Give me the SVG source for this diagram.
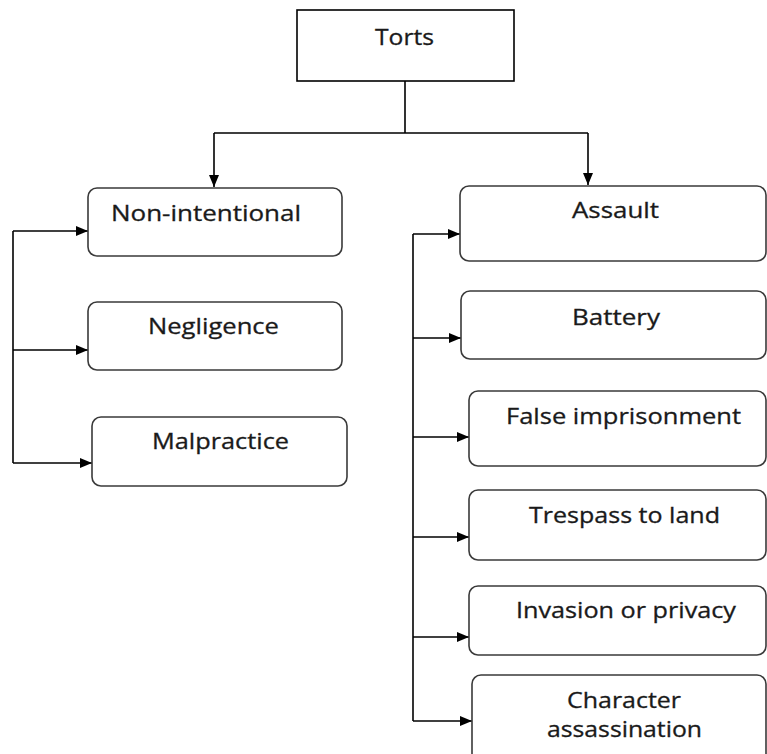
<svg xmlns="http://www.w3.org/2000/svg" width="767" height="754" viewBox="0 0 767 754">
<style>
.box{fill:#fff;stroke:#3a3a3a;stroke-width:1.6}
.t{font-family:"Open Sans","Noto Sans","Liberation Sans",sans-serif;font-size:21px;fill:#1a1a1a;text-anchor:start;stroke:#1a1a1a;stroke-width:0.3}
.c{fill:none;stroke:#000;stroke-width:1.6}
</style>
<defs>
<marker id="a" viewBox="0 0 12 10" refX="12" refY="5" markerWidth="12" markerHeight="10" markerUnits="userSpaceOnUse" orient="auto">
<path d="M0,0 L12,5 L0,10 Z" fill="#000"/>
</marker>
</defs>
<rect width="767" height="754" fill="#fff"/>
<g id="connectors">
<path class="c" d="M405,81 V133 M214,133 H588"/>
<path class="c" d="M214,133 V187" marker-end="url(#a)"/>
<path class="c" d="M588,133 V185" marker-end="url(#a)"/>
<path class="c" d="M13,231 V463"/>
<path class="c" d="M13,231 H88" marker-end="url(#a)"/>
<path class="c" d="M13,350 H88" marker-end="url(#a)"/>
<path class="c" d="M13,463 H92" marker-end="url(#a)"/>
<path class="c" d="M413,234 V721"/>
<path class="c" d="M413,234 H460" marker-end="url(#a)"/>
<path class="c" d="M413,338 H461" marker-end="url(#a)"/>
<path class="c" d="M413,437 H469" marker-end="url(#a)"/>
<path class="c" d="M413,537 H469" marker-end="url(#a)"/>
<path class="c" d="M413,637 H469" marker-end="url(#a)"/>
<path class="c" d="M413,721 H472" marker-end="url(#a)"/>
</g>
<g id="torts"><rect class="box" x="297" y="10" width="217" height="71" style="stroke:#000"/><text class="t" x="375" y="45" textLength="59" lengthAdjust="spacingAndGlyphs">Torts</text></g>
<g id="non-intentional"><rect class="box" x="88" y="188" width="254" height="68" rx="9"/><text class="t" x="111" y="221" textLength="190" lengthAdjust="spacingAndGlyphs">Non-intentional</text></g>
<g id="negligence"><rect class="box" x="88" y="302" width="254" height="68" rx="9"/><text class="t" x="148" y="334" textLength="131" lengthAdjust="spacingAndGlyphs">Negligence</text></g>
<g id="malpractice"><rect class="box" x="92" y="417" width="255" height="69" rx="9"/><text class="t" x="152" y="449" textLength="137" lengthAdjust="spacingAndGlyphs">Malpractice</text></g>
<g id="assault"><rect class="box" x="460" y="186" width="306" height="75" rx="9"/><text class="t" x="572" y="218" textLength="87" lengthAdjust="spacingAndGlyphs">Assault</text></g>
<g id="battery"><rect class="box" x="461" y="291" width="305" height="68" rx="9"/><text class="t" x="572" y="325" textLength="88" lengthAdjust="spacingAndGlyphs">Battery</text></g>
<g id="false-imprisonment"><rect class="box" x="469" y="391" width="297" height="75" rx="9"/><text class="t" x="506" y="424" textLength="235" lengthAdjust="spacingAndGlyphs">False imprisonment</text></g>
<g id="trespass"><rect class="box" x="469" y="490" width="297" height="70" rx="9"/><text class="t" x="529" y="523" textLength="191" lengthAdjust="spacingAndGlyphs">Trespass to land</text></g>
<g id="invasion"><rect class="box" x="469" y="586" width="297" height="69" rx="9"/><text class="t" x="516" y="618" textLength="220" lengthAdjust="spacingAndGlyphs">Invasion or privacy</text></g>
<g id="character"><rect class="box" x="472" y="675" width="294" height="90" rx="9"/><text class="t" x="567" y="708" textLength="114" lengthAdjust="spacingAndGlyphs">Character</text><text class="t" x="547" y="737" textLength="155" lengthAdjust="spacingAndGlyphs">assassination</text></g>
</svg>
